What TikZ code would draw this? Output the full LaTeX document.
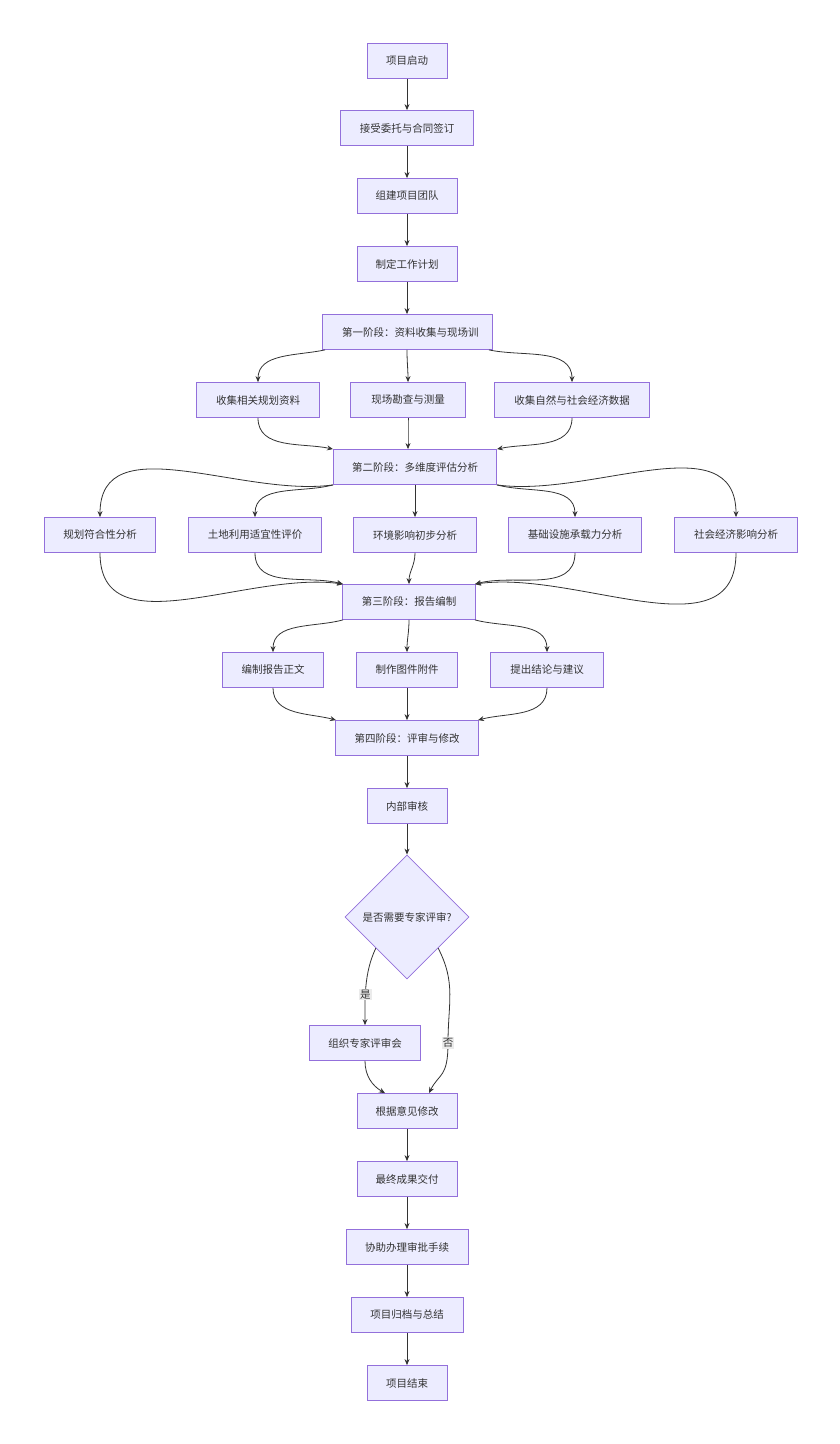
\documentclass[tikz,border=0pt]{standalone}
\usepackage{fontspec}
\setmainfont{Noto Sans CJK SC}
\usetikzlibrary{shapes.geometric,arrows.meta}
\definecolor{nfill}{HTML}{ECECFF}
\definecolor{nline}{HTML}{9370DB}
\definecolor{eline}{HTML}{333333}
\begin{document}
\begin{tikzpicture}[x=1pt,y=-1pt,
  box/.style={draw=nline,fill=nfill,line width=0.8pt,minimum height=35pt,inner sep=0pt,font=\fontsize{10.5}{12}\selectfont,text=eline},
  dia/.style={draw=nline,fill=nfill,line width=0.8pt,diamond,minimum width=124pt,minimum height=124pt,inner sep=0pt,font=\fontsize{10.5}{12}\selectfont,text=eline},
  e/.style={draw=eline,line width=0.8pt,-{Stealth[length=6pt,width=5pt]}},
  lab/.style={fill=black!8,inner sep=1pt,font=\fontsize{10.5}{12}\selectfont,text=eline}]
\useasboundingbox[fill=white] (0,0) rectangle (840,1444);
\node[box,minimum width=80pt] (a) at (407,61) {项目启动};
\node[box,minimum width=133pt] (b) at (407,128) {接受委托与合同签订};
\node[box,minimum width=100pt] (c) at (407,196) {组建项目团队};
\node[box,minimum width=100pt] (d) at (407,264) {制定工作计划};
\node[box,minimum width=170pt] (s1) at (407,332) {};
\node[font=\fontsize{10.5}{12}\selectfont,text=eline,anchor=west,inner sep=0pt] (s1t) at (342,332) {第一阶段：资料收集与现场训};
\node[box,minimum width=123pt] (c1) at (258,400) {收集相关规划资料};
\node[box,minimum width=115pt] (c2) at (408,400) {现场勘查与测量};
\node[box,minimum width=155pt] (c3) at (572,400) {收集自然与社会经济数据};
\node[box,minimum width=163pt] (s2) at (415,467) {第二阶段：多维度评估分析};
\node[box,minimum width=111pt] (r1) at (100,535) {规划符合性分析};
\node[box,minimum width=133pt] (r2) at (255,535) {土地利用适宜性评价};
\node[box,minimum width=123pt] (r3) at (415,535) {环境影响初步分析};
\node[box,minimum width=133pt] (r4) at (575,535) {基础设施承载力分析};
\node[box,minimum width=123pt] (r5) at (736,535) {社会经济影响分析};
\node[box,minimum width=133pt] (s3) at (409,602) {第三阶段：报告编制};
\node[box,minimum width=101pt] (t1) at (273,670) {编制报告正文};
\node[box,minimum width=101pt] (t2) at (407,670) {制作图件附件};
\node[box,minimum width=113pt] (t3) at (547,670) {提出结论与建议};
\node[box,minimum width=143pt] (s4) at (407,738) {第四阶段：评审与修改};
\node[box,minimum width=80pt] (u) at (407,806) {内部审核};
\node[dia] (q) at (407,917) {是否需要专家评审?};
\node[box,minimum width=111pt] (x) at (365,1043) {组织专家评审会};
\node[box,minimum width=100pt] (m) at (407,1111) {根据意见修改};
\node[box,minimum width=100pt] (f) at (407,1179) {最终成果交付};
\node[box,minimum width=122pt] (g) at (407,1247) {协助办理审批手续};
\node[box,minimum width=112pt] (h) at (407,1315) {项目归档与总结};
\node[box,minimum width=80pt] (z) at (407,1383) {项目结束};
\draw[e] (a) -- (b); \draw[e] (b) -- (c); \draw[e] (c) -- (d); \draw[e] (d) -- (s1);
\draw[e] ([xshift=-82pt]s1.south) to[out=-168,in=90] (c1.north);
\draw[e] (s1.south) to[out=-90,in=90] (c2.north);
\draw[e] ([xshift=82pt]s1.south) to[out=-12,in=90] (c3.north);
\draw[e] (c1.south) to[out=-90,in=168] ([xshift=-82pt]s2.north);
\draw[e] (c2.south) to[out=-90,in=90] ([xshift=-7pt]s2.north);
\draw[e] (c3.south) to[out=-90,in=12] ([xshift=82pt]s2.north);
\draw[e] ([xshift=-82pt]s2.south) to[out=-172,in=90] (r1.north);
\draw[e] ([xshift=-82pt]s2.south) to[out=-165,in=90] (r2.north);
\draw[e] (s2.south) -- (r3.north);
\draw[e] ([xshift=82pt]s2.south) to[out=-15,in=90] (r4.north);
\draw[e] ([xshift=82pt]s2.south) to[out=-8,in=90] (r5.north);
\draw[e] (r1.south) to[out=-90,in=172] ([xshift=-66pt]s3.north);
\draw[e] (r2.south) to[out=-90,in=165] ([xshift=-66pt]s3.north);
\draw[e] (r3.south) to[out=-90,in=90] (s3.north);
\draw[e] (r4.south) to[out=-90,in=15] ([xshift=66pt]s3.north);
\draw[e] (r5.south) to[out=-90,in=8] ([xshift=66pt]s3.north);
\draw[e] ([xshift=-66pt]s3.south) to[out=-165,in=90] (t1.north);
\draw[e] (s3.south) to[out=-90,in=90] (t2.north);
\draw[e] ([xshift=66pt]s3.south) to[out=-15,in=90] (t3.north);
\draw[e] (t1.south) to[out=-90,in=165] ([xshift=-71pt]s4.north);
\draw[e] (t2.south) -- (s4.north);
\draw[e] (t3.south) to[out=-90,in=15] ([xshift=71pt]s4.north);
\draw[e] (s4) -- (u); \draw[e] (u) -- (q);
\draw[e] (q.225) .. controls +(-12,25) and +(0,-25) .. node[lab,pos=0.6]{是} (x.north);
\draw[e] (q.-45) .. controls +(18,35) and +(0,-40) .. (448,1043) .. controls +(0,35) and +(10,-20) .. ([xshift=22pt]m.north);
\node[lab] (no) at (448,1043) {否};
\draw[e] (x.south) to[out=-90,in=150] ([xshift=-22pt]m.north);
\draw[e] (m) -- (f); \draw[e] (f) -- (g); \draw[e] (g) -- (h); \draw[e] (h) -- (z);
\end{tikzpicture}
\end{document}
